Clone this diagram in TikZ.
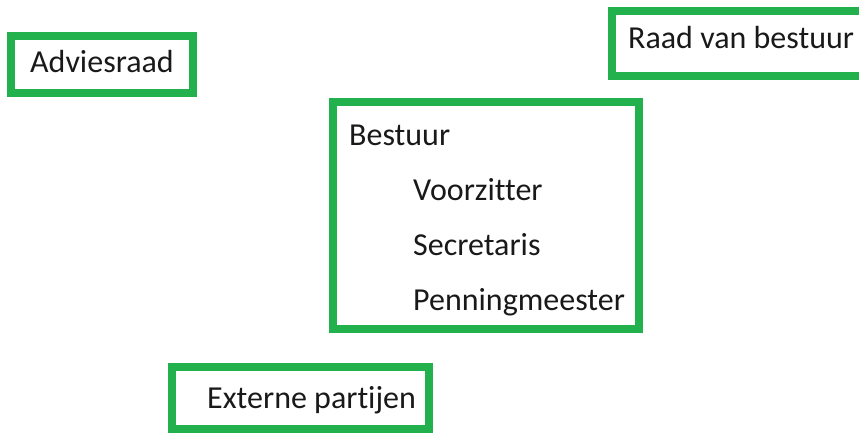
\documentclass[tikz,border=0pt]{standalone}
\usepackage{fontspec}
\setmainfont[Ligatures={NoCommon}]{Carlito}
\definecolor{boxgreen}{HTML}{22B14C}
\tikzset{
  box/.style={draw=boxgreen, line width=8.5pt, rectangle, inner sep=0pt, outer sep=0pt},
  lbl/.style={anchor=base west, inner sep=0pt, font=\fontsize{32}{38}\selectfont, text=black!90}
}
\begin{document}
\begin{tikzpicture}[x=1pt,y=-1pt]
\useasboundingbox (0,0) rectangle (859,432);
\clip (0,0) rectangle (859,432);
% boxes (centerline corners)
\node[box, minimum width=182pt, minimum height=57pt, anchor=north west] (advbox) at (11,36) {};
\node[box, minimum width=260pt, minimum height=65pt, anchor=north west] (raadbox) at (612,11) {};
\node[box, minimum width=306pt, minimum height=227pt, anchor=north west] (bestbox) at (333,102) {};
\node[box, minimum width=257pt, minimum height=62pt, anchor=north west] (extbox) at (172,367) {};
% labels
\node[lbl] (adv) at (30,72) {Adviesraad};
\node[lbl] (raad) at (628,48) {Raad van bestuur};
\node[lbl] (best) at (349,145) {Bestuur};
\node[lbl] (voor) at (413,200) {Voorzitter};
\node[lbl] (secr) at (413,255) {Secretaris};
\node[lbl] (penn) at (413,310) {Penningmeester};
\node[lbl] (ext) at (207,408) {Externe partijen};
\end{tikzpicture}
\end{document}
